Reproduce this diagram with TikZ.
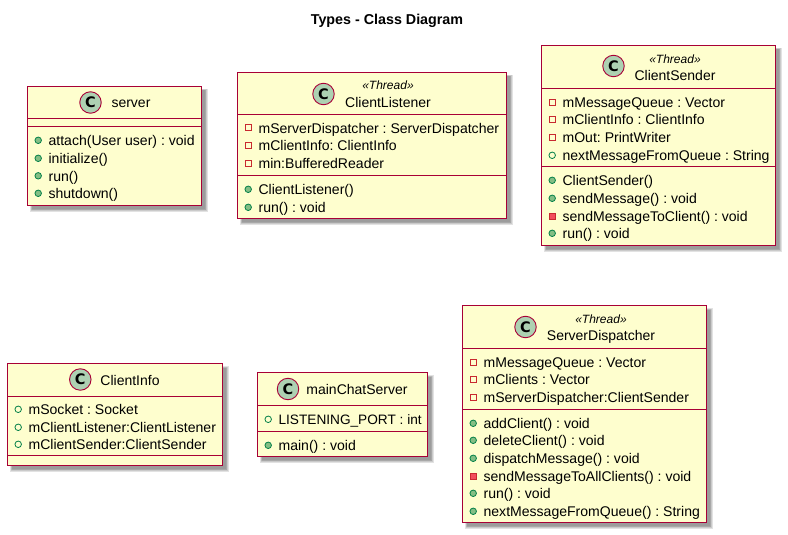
\documentclass[tikz,border=0pt]{standalone}
\usepackage{fontspec}
\setmainfont{Liberation Sans}
\newfontfamily\spotfont{DejaVu Sans}
\definecolor{bcol}{HTML}{A80036}
\definecolor{fillc}{HTML}{FEFECE}
\definecolor{spotc}{HTML}{ADD1B2}
\definecolor{shad}{HTML}{6E6E6E}
\definecolor{pubg}{HTML}{84BE84}
\definecolor{pubd}{HTML}{038048}
\definecolor{prid}{HTML}{C82930}
\definecolor{prif}{HTML}{F24D5C}
\tikzset{
 x=1pt,y=-1pt,
 boxshape/.style={draw=bcol,fill=fillc,line width=1.1pt},
 shadowshape/.style={fill=shad,draw=none,fill opacity=0.2},
 sepline/.style={draw=bcol,line width=0.9pt},
 spot/.style={circle,draw=bcol,fill=spotc,line width=0.9pt,minimum size=21.5pt,inner sep=0pt,font=\fontsize{14.5}{14.5}\spotfont\bfseries,text=black},
 cname/.style={anchor=base,inner sep=0pt,font=\fontsize{14}{14}\selectfont\frenchspacing},
 stereo/.style={anchor=base,inner sep=0pt,font=\fontsize{12}{12}\selectfont\itshape},
 member/.style={anchor=base west,inner sep=0pt,font=\fontsize{14.05}{14}\selectfont\frenchspacing},
 pubm/.style={circle,draw=pubd,fill=pubg,line width=0.8pt,minimum size=6.5pt,inner sep=0pt},
 pubo/.style={circle,draw=pubd,fill=none,line width=0.8pt,minimum size=6.5pt,inner sep=0pt},
 prio/.style={rectangle,draw=prid,fill=none,line width=0.8pt,minimum size=6pt,inner sep=0pt},
 prim/.style={rectangle,draw=prid,fill=prif,line width=0.8pt,minimum size=6pt,inner sep=0pt},
}
% box: x1,y1,x2,y2
\newcommand{\umlbox}[4]{%
 \fill[shadowshape] (#1+2.5,#2+2.5) rectangle (#3+6,#4+6);
 \fill[shadowshape] (#1+3,#2+3) rectangle (#3+5.3,#4+5.3);
 \fill[shadowshape] (#1+3.5,#2+3.5) rectangle (#3+4.7,#4+4.7);
 \fill[shadowshape] (#1+4,#2+4) rectangle (#3+4.1,#4+4.1);
 \fill[shadowshape] (#1+4,#2+4) rectangle (#3+3.5,#4+3.5);
 \draw[boxshape] (#1,#2) rectangle (#3,#4);}
\newcommand{\hsep}[3]{\draw[sepline] (#1,#3) -- (#2,#3);}
% member: name, marker style, marker x, baseline y, text
\newcommand{\mem}[5]{%
 \node[#2] (#1m) at (#3,#4-4.7) {};
 \node[member] (#1) at (#3+10.2,#4+0.5) {#5};}
\begin{document}
\begin{tikzpicture}
\useasboundingbox (0,0) rectangle (788,535);
\fill[white] (0,0) rectangle (788,535);
\node[anchor=base,inner sep=0pt,font=\fontsize{14.3}{14}\selectfont\bfseries] (title) at (387,25) {Types - Class Diagram};

% server
\umlbox{27.5}{86.5}{201.5}{205.5}
\node[spot] (s1) at (90.5,102.5) {C};
\node[cname] (s1n) at (131,108) {server};
\hsep{27.5}{201.5}{118.5}
\hsep{27.5}{201.5}{126.5}
\mem{s1a}{pubm}{38.2}{145}{attach(User user) : void}
\mem{s1b}{pubm}{38.2}{163}{initialize()}
\mem{s1c}{pubm}{38.2}{180.5}{run()}
\mem{s1d}{pubm}{38.2}{198}{shutdown()}

% ClientListener
\umlbox{237.5}{72.5}{506.5}{218.5}
\node[spot] (s2) at (323.5,94) {C};
\node[stereo] (s2s) at (388,90) {«Thread»};
\node[cname] (s2n) at (388,107.5) {ClientListener};
\hsep{237.5}{506.5}{114.5}
\hsep{237.5}{506.5}{175.5}
\mem{s2a}{prio}{248.2}{132.5}{mServerDispatcher : ServerDispatcher}
\mem{s2b}{prio}{248.2}{150}{mClientInfo: ClientInfo}
\mem{s2c}{prio}{248.2}{168}{min:BufferedReader}
\mem{s2d}{pubm}{248.2}{194}{ClientListener()}
\mem{s2e}{pubm}{248.2}{212}{run() : void}

% ClientSender
\umlbox{541.5}{45.5}{775.5}{245.5}
\node[spot] (s3) at (613.5,66) {C};
\node[stereo] (s3s) at (675,63.5) {«Thread»};
\node[cname] (s3n) at (675,80.5) {ClientSender};
\hsep{541.5}{775.5}{88.5}
\hsep{541.5}{775.5}{166.5}
\mem{s3a}{prio}{552.2}{107}{mMessageQueue : Vector}
\mem{s3b}{prio}{552.2}{124}{mClientInfo : ClientInfo}
\mem{s3c}{prio}{552.2}{142}{mOut: PrintWriter}
\mem{s3d}{pubo}{552.2}{160}{nextMessageFromQueue : String}
\mem{s3e}{pubm}{552.2}{185}{ClientSender()}
\mem{s3f}{pubm}{552.2}{203}{sendMessage() : void}
\mem{s3g}{prim}{552.2}{221}{sendMessageToClient() : void}
\mem{s3h}{pubm}{552.2}{238}{run() : void}

% ClientInfo
\umlbox{7.5}{363.5}{222.5}{465.5}
\node[spot] (s4) at (80.3,379.5) {C};
\node[cname] (s4n) at (130,385) {ClientInfo};
\hsep{7.5}{222.5}{396.5}
\hsep{7.5}{222.5}{455.5}
\mem{s4a}{pubo}{18.2}{414}{mSocket : Socket}
\mem{s4b}{pubo}{18.2}{432}{mClientListener:ClientListener}
\mem{s4c}{pubo}{18.2}{449}{mClientSender:ClientSender}

% mainChatServer
\umlbox{257.5}{372.5}{427.5}{456.5}
\node[spot] (s5) at (288,389) {C};
\node[cname] (s5n) at (357,394.3) {mainChatServer};
\hsep{257.5}{427.5}{405.5}
\hsep{257.5}{427.5}{431.5}
\mem{s5a}{pubo}{268.2}{424}{\fontsize{13.65}{14}\selectfont LISTENING\_PORT : int}
\mem{s5b}{pubm}{268.2}{450}{main() : void}

% ServerDispatcher
\umlbox{462.5}{305.5}{706.5}{522.5}
\node[spot] (s6) at (525.5,327) {C};
\node[stereo] (s6s) at (601,323.5) {«Thread»};
\node[cname] (s6n) at (601,340.5) {ServerDispatcher};
\hsep{462.5}{706.5}{348.5}
\hsep{462.5}{706.5}{409.5}
\mem{s6a}{prio}{473.2}{367}{mMessageQueue : Vector}
\mem{s6b}{prio}{473.2}{384}{mClients : Vector}
\mem{s6c}{prio}{473.2}{402}{mServerDispatcher:ClientSender}
\mem{s6d}{pubm}{473.2}{428}{addClient() : void}
\mem{s6e}{pubm}{473.2}{445}{deleteClient() : void}
\mem{s6f}{pubm}{473.2}{463}{dispatchMessage() : void}
\mem{s6g}{prim}{473.2}{481}{sendMessageToAllClients() : void}
\mem{s6h}{pubm}{473.2}{498}{run() : void}
\mem{s6i}{pubm}{473.2}{516}{nextMessageFromQueue() : String}
\end{tikzpicture}
\end{document}
